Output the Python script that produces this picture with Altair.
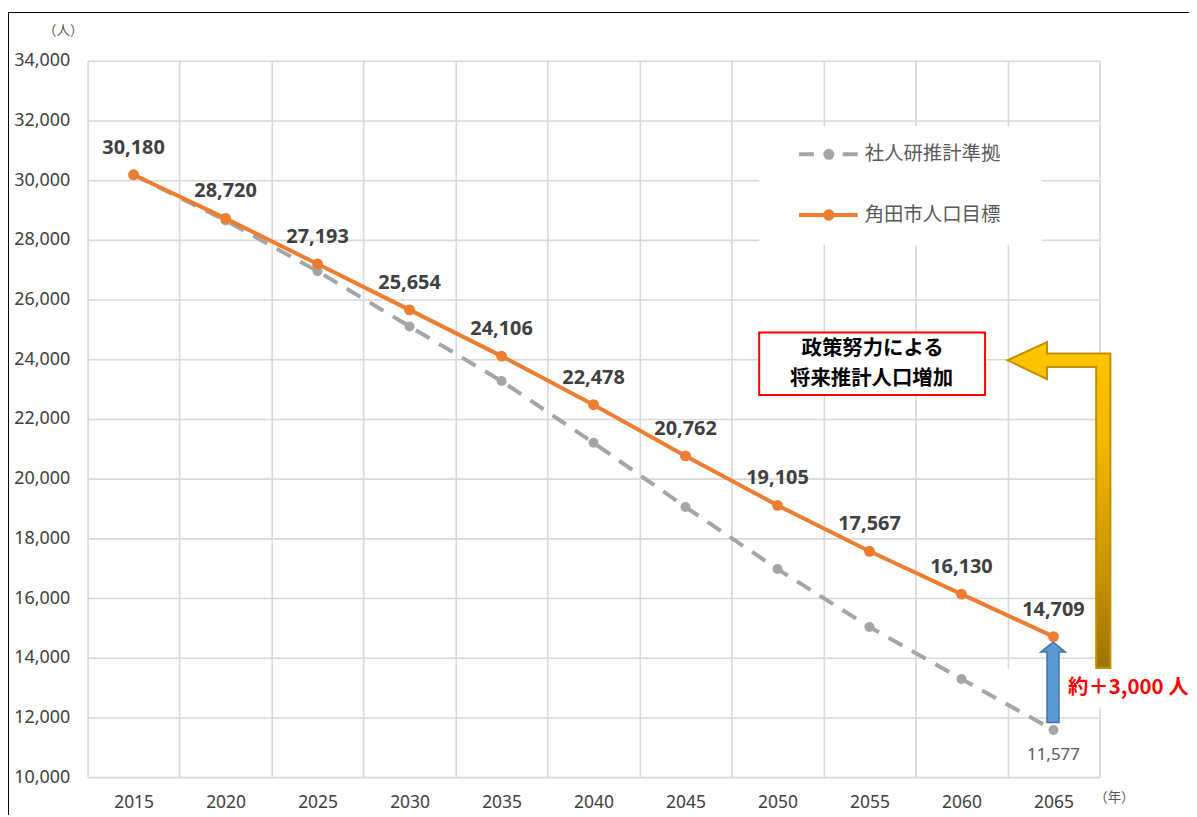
import altair as alt
import pandas as pd

# ---- data ----
years = ["2015", "2020", "2025", "2030", "2035", "2040", "2045", "2050", "2055", "2060", "2065"]
shajinken = [30180, 28650, 26950, 25100, 23270, 21200, 19050, 16970, 15030, 13290, 11577]
target = [30180, 28720, 27193, 25654, 24106, 22478, 20762, 19105, 17567, 16130, 14709]
series_names = ["社人研推計準拠", "角田市人口目標"]
y_ticks = list(range(10000, 34001, 2000))

df_gray = pd.DataFrame({"year": years, "value": shajinken, "series": series_names[0]})
df_orange = pd.DataFrame({"year": years, "value": target, "series": series_names[1]})

GRAY = "#A5A5A5"
ORANGE = "#ED7D31"
LATIN = "Noto Sans, Noto Sans CJK JP"
CJK = "Noto Sans CJK JP"

# plot-area origin on the page
OX, OY = 88, 59
W, H = 1017, 720

x_enc = alt.X(
    "year:O",
    sort=years,
    scale=alt.Scale(type="band", paddingInner=0, paddingOuter=0),
    axis=alt.Axis(
        title=None, labelAngle=0, tickBand="extent", grid=True, ticks=False, tickSize=0,
        domain=False, labelPadding=26, labelBaseline="middle", labelFontSize=17.5,
        labelColor="#404040", labelFont=LATIN,
    ),
)
y_enc = alt.Y(
    "value:Q",
    scale=alt.Scale(domain=[10000, 34000], nice=False, zero=False),
    axis=alt.Axis(
        title=None, values=y_ticks, format=",.0f", grid=True, ticks=False, tickSize=0,
        domain=False, labelPadding=18, labelFontSize=18, labelColor="#404040", labelFont=LATIN,
    ),
)

gray_line = alt.Chart(df_gray).mark_line(
    color=GRAY, strokeWidth=4, strokeDash=[16, 11]
).encode(x=x_enc, y=y_enc)
gray_pts = alt.Chart(df_gray).mark_point(
    filled=True, color=GRAY, size=100, opacity=1
).encode(x=x_enc, y=y_enc)
gray_lbl = alt.Chart(df_gray).transform_filter(alt.datum.year == "2065").mark_text(
    dy=25, fontSize=17, color="#595959", font=LATIN
).encode(x=x_enc, y=y_enc, text=alt.Text("value:Q", format=",.0f"))

orange_line = alt.Chart(df_orange).mark_line(
    color=ORANGE, strokeWidth=4
).encode(x=x_enc, y=y_enc)
orange_pts = alt.Chart(df_orange).mark_point(
    filled=True, color=ORANGE, size=120, opacity=1
).encode(x=x_enc, y=y_enc)
orange_lbl = alt.Chart(df_orange).mark_text(
    dy=-27, fontSize=20, fontWeight="bold", color="#404040", font=LATIN
).encode(x=x_enc, y=y_enc, text=alt.Text("value:Q", format=",.0f"))

one = pd.DataFrame({"k": [0]})


def rect(x1, y1, x2, y2, **kw):
    return alt.Chart(one).mark_rect(**kw).encode(
        x=alt.value(x1 - OX), x2=alt.value(x2 - OX), y=alt.value(y1 - OY), y2=alt.value(y2 - OY)
    )


def text(x, y, s, **kw):
    return alt.Chart(one).mark_text(**kw).encode(
        x=alt.value(x - OX), y=alt.value(y - OY), text=alt.value(s)
    )


def rule(x1, y1, x2, y2, **kw):
    return alt.Chart(one).mark_rule(**kw).encode(
        x=alt.value(x1 - OX), x2=alt.value(x2 - OX), y=alt.value(y1 - OY), y2=alt.value(y2 - OY)
    )


def shape(pts, **kw):
    xs = [p[0] for p in pts]
    ys = [p[1] for p in pts]
    cx = (min(xs) + max(xs)) / 2
    cy = (min(ys) + max(ys)) / 2
    S = max(max(xs) - min(xs), max(ys) - min(ys)) + 2
    h = S / 2
    path = "M" + " L".join(f"{(x - cx) / h:.4f},{(y - cy) / h:.4f}" for x, y in pts) + " Z"
    return alt.Chart(one).mark_point(shape=path, size=S * S, filled=True, opacity=1, **kw).encode(
        x=alt.value(cx - OX), y=alt.value(cy - OY)
    )


# legend (inside plot)
legend_bg = rect(763, 125, 1047, 244, fill="white")
leg_gray_line = rule(803, 153, 862, 153, color=GRAY, strokeWidth=4, strokeDash=[15, 29])
leg_gray_pt = alt.Chart(one).mark_point(filled=True, color=GRAY, size=120, opacity=1).encode(
    x=alt.value(833 - OX), y=alt.value(153 - OY))
leg_gray_txt = text(869, 153, series_names[0], align="left", baseline="middle",
                    fontSize=19.5, color="#595959", font=CJK)
leg_or_line = rule(803, 214, 862, 214, color=ORANGE, strokeWidth=4)
leg_or_pt = alt.Chart(one).mark_point(filled=True, color=ORANGE, size=130, opacity=1).encode(
    x=alt.value(833 - OX), y=alt.value(214 - OY))
leg_or_txt = text(869, 214, series_names[1], align="left", baseline="middle",
                  fontSize=19.5, color="#595959", font=CJK)

# red annotation box
red_box = rect(763, 332, 990, 395, fill="white", stroke="#FF0000", strokeWidth=2)
red_t1 = text(877, 348.5, "政策努力による", align="center", baseline="middle",
              fontSize=20.5, fontWeight="bold", color="black", font=CJK)
red_t2 = text(876, 378.5, "将来推計人口増加", align="center", baseline="middle",
              fontSize=20.5, fontWeight="bold", color="black", font=CJK)

# yellow bent arrow
yellow_grad = alt.LinearGradient(
    gradient="linear", x1=0, x2=0, y1=0, y2=1,
    stops=[
        alt.GradientStop(color="#FFC400", offset=0),
        alt.GradientStop(color="#F4B800", offset=0.3),
        alt.GradientStop(color="#C99400", offset=0.7),
        alt.GradientStop(color="#9E7200", offset=1),
    ],
)
yellow_arrow = shape(
    [(1012.7, 360), (1052.3, 341.7), (1052.3, 353.3), (1116, 353.3), (1116, 669.3),
     (1101.7, 669.3), (1101.7, 366.7), (1052.3, 366.7), (1052.3, 379)],
    fill=yellow_grad, stroke="#BF9000", strokeWidth=2,
)

# white patch behind red text
white_patch = rect(984, 670, 1197, 709, fill="white")
plus_txt = text(1134, 689, "約＋3,000 人", align="center", baseline="middle",
                fontSize=20.5, fontWeight="bold", color="#FF0000", font=CJK)

# blue arrow
blue_arrow = shape(
    [(1058.4, 643.3), (1070.7, 653.3), (1064.3, 653.3), (1064.3, 724),
     (1052.3, 724), (1052.3, 653.3), (1046, 653.3)],
    fill="#5B9BD5", stroke="#41719C", strokeWidth=1.5,
)

# unit labels
unit_y = text(63.5, 29, "（人）", align="center", baseline="middle", fontSize=13.5,
              color="#595959", font=CJK)
unit_x = text(1120, 800, "（年）", align="center", baseline="middle", fontSize=13.5,
              color="#595959", font=CJK)

# outer frame (top & left)
frame_top = rule(8, 10.5, 1197, 10.5, color="black", strokeWidth=1)
frame_left = rule(8.5, 10, 8.5, 817, color="black", strokeWidth=1)

chart = alt.layer(
    legend_bg, red_box, white_patch,
    gray_line, gray_pts, orange_line, orange_pts,
    gray_lbl, orange_lbl,
    leg_gray_line, leg_gray_pt, leg_gray_txt, leg_or_line, leg_or_pt, leg_or_txt,
    red_t1, red_t2, yellow_arrow, blue_arrow, plus_txt,
    unit_y, unit_x, frame_top, frame_left,
).properties(
    width=W, height=H,
    padding={"left": OX - 8, "top": OY - 8, "right": 90, "bottom": 36},
    autosize=alt.AutoSizeParams(type="none"),
    background="white",
).configure_view(stroke=None).configure_axis(
    gridColor="#D9D9D9", gridWidth=1.6
)

chart.save("out.html", embed_options={"renderer": "svg", "actions": False})
